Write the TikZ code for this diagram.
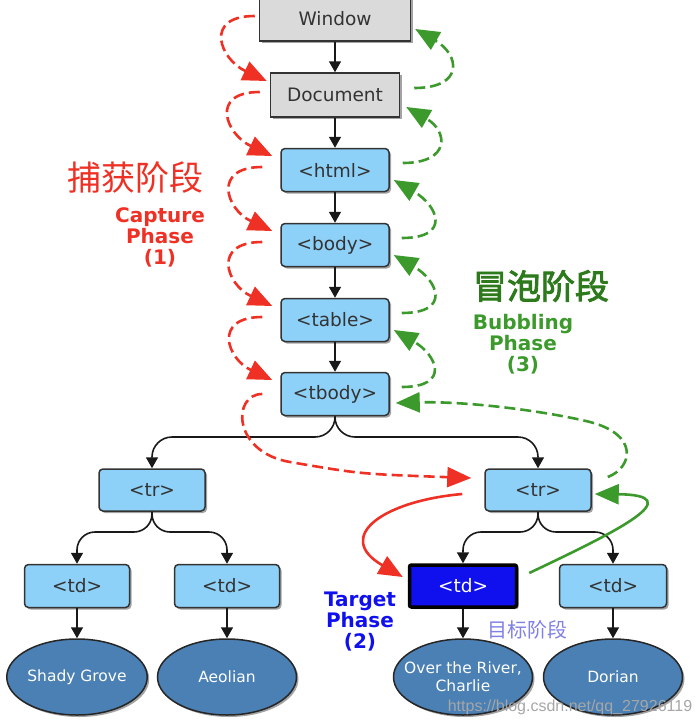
\documentclass[tikz,border=0pt]{standalone}
\usepackage{fontspec}
\setmainfont{DejaVu Sans}
\newfontfamily\cjk{Noto Sans CJK SC}
\newfontfamily\cjkbold[FakeBold=2.5]{Noto Sans CJK SC}
\newfontfamily\markfont{Liberation Sans}
\usepackage{tikz}
\usetikzlibrary{arrows.meta}
\usetikzlibrary{shapes.geometric}
\usetikzlibrary{shadows}
\usepackage{xcolor}
\definecolor{capred}{HTML}{EE3124}
\definecolor{bubgreen}{HTML}{3C9A2C}
\definecolor{zhgreen}{HTML}{2C7A1C}
\definecolor{nodeblue}{HTML}{8DD0F8}
\definecolor{nodegray}{HTML}{DADADA}
\definecolor{leafblue}{HTML}{4A80B4}
\definecolor{tgtblue}{HTML}{1010EE}
\definecolor{zhlavender}{HTML}{8080E6}

\begin{document}
\begin{tikzpicture}[x=1pt,y=1pt,
    box/.style={draw=black!80, line width=1.5pt, text=black!80, inner sep=0pt,
      font=\fontsize{18.5}{21}\selectfont,
      drop shadow={shadow xshift=2pt, shadow yshift=-2pt, fill=black!60, opacity=0.6}},
    graybox/.style={box, fill=nodegray, minimum height=44pt},
    tagbox/.style={box, fill=nodeblue, rounded corners=4pt, minimum width=108pt, minimum height=43pt},
    leaf/.style={ellipse, draw=black!85, line width=1.5pt, fill=leafblue, text=white, inner sep=0pt,
      minimum width=139pt, minimum height=76pt, align=center, font=\fontsize{15.5}{18}\selectfont,
      drop shadow={shadow xshift=2pt, shadow yshift=-2pt, fill=black!60, opacity=0.6}},
    tree/.style={draw=black!90, line width=1.6pt, -{Triangle[length=11pt,width=12pt]}},
    phasetip/.style={-{Triangle[length=24pt,width=20pt]}},
    capture/.style={draw=capred, line width=2.6pt, dash pattern=on 11pt off 5pt, phasetip},
    bubble/.style={draw=bubgreen, line width=2.6pt, dash pattern=on 11pt off 5pt, phasetip},
    phase/.style={font=\bfseries\fontsize{20}{21}\selectfont, align=center}
  ]
    \useasboundingbox (0,0) rectangle (698,-726);

    % dom tree
    \node[graybox, minimum width=151pt] (window) at (335,-19) {Window};
    \node[graybox, minimum width=129pt] (document) at (335,-95) {Document};
    \node[tagbox] (html) at (335,-170) {<html>};
    \node[tagbox] (body) at (335,-245) {<body>};
    \node[tagbox] (table) at (335,-320) {<table>};
    \node[tagbox] (tbody) at (335,-394) {<tbody>};
    \node[tagbox, minimum width=106pt, minimum height=42pt] (tr1) at (152,-490) {<tr>};
    \node[tagbox, minimum width=106pt, minimum height=42pt] (tr2) at (538,-490) {<tr>};
    \node[tagbox, minimum width=105pt] (td1) at (77,-586) {<td>};
    \node[tagbox, minimum width=105pt] (td2) at (227,-586) {<td>};
    \node[tagbox, fill=tgtblue, draw=black, line width=3.5pt, text=white, rounded corners=2pt,
      minimum width=107pt, minimum height=42pt] (td3) at (463,-586) {<td>};
    \node[tagbox, minimum width=107pt] (td4) at (613,-586) {<td>};
    \node[leaf] (shady) at (77,-677) {Shady Grove};
    \node[leaf] (aeolian) at (227,-677) {Aeolian};
    \node[leaf, inner xsep=-15pt] (river) at (463,-677) {Over the River,\\Charlie};
    \node[leaf] (dorian) at (613,-677) {Dorian};

    \draw[tree] (window) -- (document);
    \draw[tree] (document) -- (html);
    \draw[tree] (html) -- (body);
    \draw[tree] (body) -- (table);
    \draw[tree] (table) -- (tbody);
    \coordinate (split1) at (335,-437);
    \coordinate (split2) at (0,-532);
    \draw[tree, rounded corners=20pt] (tbody.south) |- (tr1.north |- split1) -- (tr1.north);
    \draw[tree, rounded corners=20pt] (tbody.south) |- (tr2.north |- split1) -- (tr2.north);
    \draw[tree, rounded corners=18pt] (tr1.south) |- (td1.north |- split2) -- (td1.north);
    \draw[tree, rounded corners=18pt] (tr1.south) |- (td2.north |- split2) -- (td2.north);
    \draw[tree, rounded corners=18pt] (tr2.south) |- (td3.north |- split2) -- (td3.north);
    \draw[tree, rounded corners=18pt] (tr2.south) |- (td4.north |- split2) -- (td4.north);
    \draw[tree] (td1) -- (shady);
    \draw[tree] (td2) -- (aeolian);
    \draw[tree] (td3) -- (river);
    \draw[tree] (td4) -- (dorian);

    % capture phase
    \draw[capture] ([xshift=-4pt,yshift=3pt]window.west) to[out=180,in=155,looseness=2] ([xshift=-3pt,yshift=14pt]document.west);
    \draw[capture] ([xshift=-10pt,yshift=3pt]document.west) to[out=180,in=155,looseness=2] ([xshift=-8pt,yshift=14pt]html.west);
    \draw[capture] ([xshift=-18pt,yshift=3pt]html.west) to[out=180,in=155,looseness=2] ([xshift=-8pt,yshift=14pt]body.west);
    \draw[capture] ([xshift=-18pt,yshift=3pt]body.west) to[out=180,in=155,looseness=2] ([xshift=-8pt,yshift=14pt]table.west);
    \draw[capture] ([xshift=-18pt,yshift=3pt]table.west) to[out=180,in=155,looseness=2] ([xshift=-8pt,yshift=14pt]tbody.west);
    \draw[capture] ([xshift=-18pt]tbody.west) .. controls (232,-394) and (232,-452) .. (290,-462)
      .. controls (360,-474) .. ([xshift=-13pt,yshift=12pt]tr2.west);
    \draw[draw=capred, line width=2.6pt, phasetip]
      ([xshift=-22pt,yshift=-4pt]tr2.west) to[out=185,in=150,looseness=2] ([xshift=-5pt,yshift=9pt]td3.west);

    % bubbling phase
    \draw[draw=bubgreen, line width=2.6pt, phasetip]
      ([xshift=11pt,yshift=13pt]td3.east) .. controls (620,-530) and (690,-495) .. ([xshift=3pt,yshift=-4pt]tr2.east);
    \draw[bubble] ([xshift=16pt,yshift=13pt]tr2.east) .. controls (632,-468) and (640,-435) .. (590,-422)
      .. controls (550,-412) and (470,-401) .. ([xshift=6pt,yshift=-9pt]tbody.east);
    \draw[bubble] ([xshift=12pt,yshift=7pt]tbody.east) to[out=0,in=-30,looseness=2.2] ([xshift=4pt,yshift=-10pt]table.east);
    \draw[bubble] ([xshift=12pt,yshift=7pt]table.east) to[out=0,in=-30,looseness=2.2] ([xshift=4pt,yshift=-10pt]body.east);
    \draw[bubble] ([xshift=12pt,yshift=7pt]body.east) to[out=0,in=-30,looseness=2.2] ([xshift=4pt,yshift=-10pt]html.east);
    \draw[bubble] ([xshift=13pt,yshift=7pt]html.east) to[out=0,in=-30,looseness=2.2] ([xshift=6pt,yshift=-12pt]document.east);
    \draw[bubble] ([xshift=14pt,yshift=7pt]document.east) to[out=0,in=-30,looseness=2.2] ([xshift=4pt,yshift=-10pt]window.east);

    % labels
    \node[text=capred, font=\cjk\fontsize{34}{36}\selectfont] (capzh) at (135,-178) {捕获阶段};
    \node[phase, text=capred] (capen) at (160,-237) {Capture\\Phase\\(1)};
    \node[text=zhgreen, font=\cjkbold\fontsize{34}{36}\selectfont] (bubzh) at (541,-286) {冒泡阶段};
    \node[phase, text=bubgreen] (buben) at (523,-344) {Bubbling\\Phase\\(3)};
    \node[phase, text=tgtblue] (tgten) at (360,-622) {Target\\Phase\\(2)};
    \node[text=zhlavender, font=\cjk\fontsize{20}{22}\selectfont] (tgtzh) at (527,-630) {目标阶段};
    \node[text=black!35, font=\markfont\fontsize{16}{18}\selectfont] (mark) at (570,-707) {https://blog.csdn.net/qq\_27926119};
\end{tikzpicture}
\end{document}
